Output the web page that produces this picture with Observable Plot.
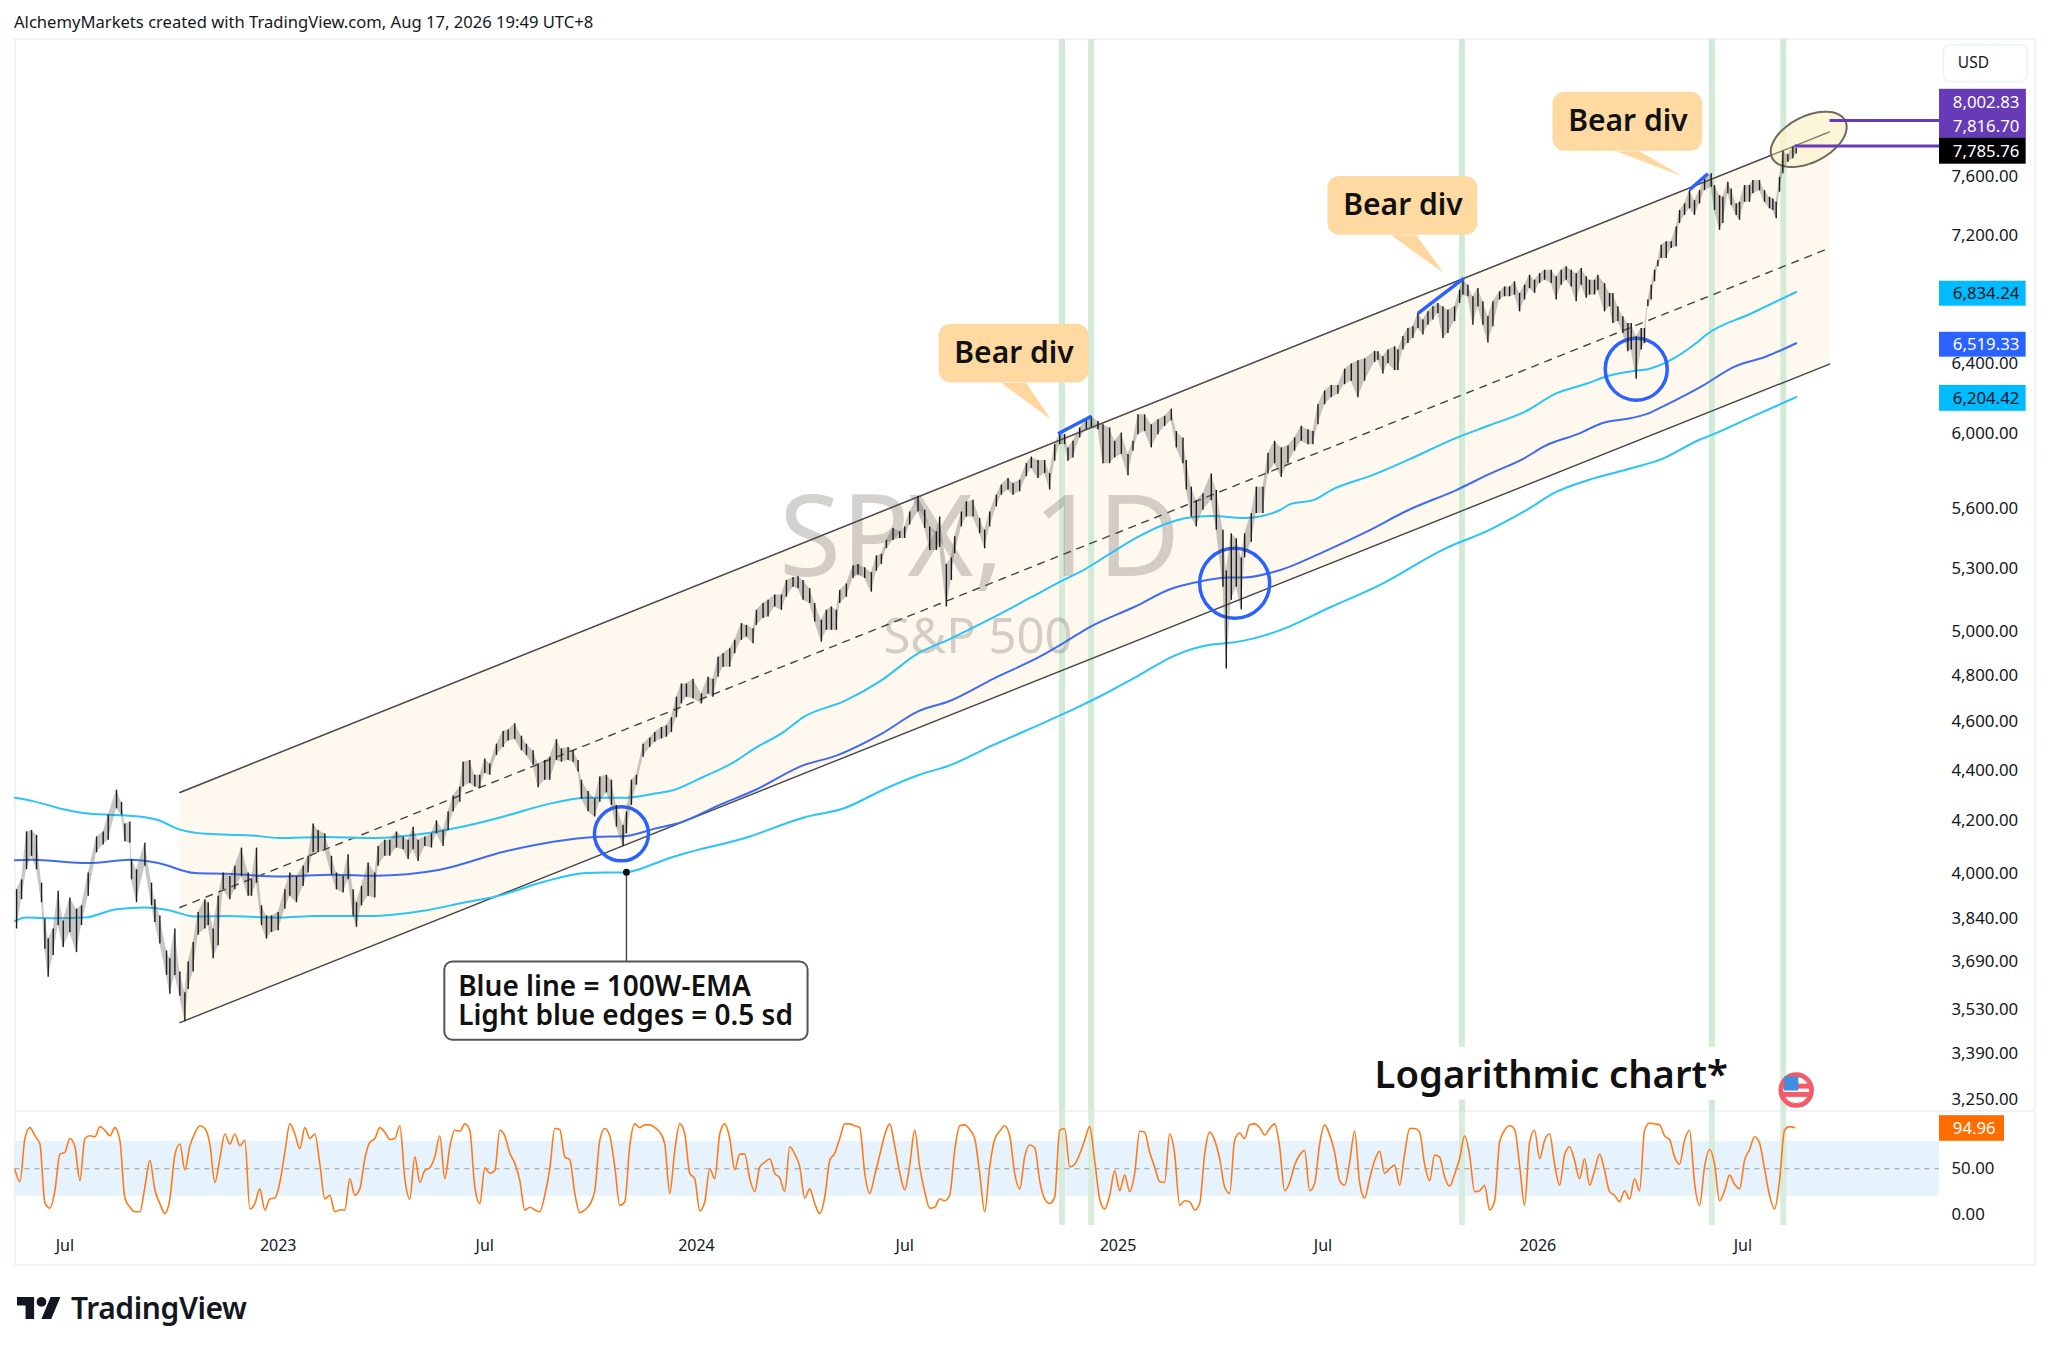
<!DOCTYPE html>
<html>
<head>
<meta charset="utf-8">
<script src="https://cdn.jsdelivr.net/npm/d3@7"></script>
<script src="https://cdn.jsdelivr.net/npm/@observablehq/plot@0.6"></script>
<style>
html,body{margin:0;padding:0;background:#fff;font-family:"Noto Sans",sans-serif;color:#131722}
#page{position:relative;width:2048px;height:1351px;overflow:hidden}
#head{position:absolute;left:14px;top:10px;font-size:16.6px;line-height:24px;white-space:nowrap}
#panel{position:absolute;left:14px;top:38px;width:2018px;height:1224px;border:2px solid #f0f3fa;box-sizing:content-box}
#divider{position:absolute;left:14px;top:1110px;width:2020px;height:2px;background:#f0f3fa}
#price{position:absolute;left:0;top:39px}
#osc{position:absolute;left:0;top:1111px}
#foot{position:absolute;left:17px;top:1293px;display:flex;align-items:center;gap:10px}
#foot span{font-size:30px;font-weight:600;letter-spacing:-.4px;line-height:30px}
svg{overflow:visible}
</style>
</head>
<body>
<div id="page">
<div id="panel"></div><div id="divider"></div>
<div id="head">AlchemyMarkets created with TradingView.com, Aug 17, 2026 19:49 UTC+8</div>
<div id="price"></div>
<div id="osc"></div>
<div id="foot"><svg width="44" height="30" viewBox="0 2 36 22"><path d="M14 22H7V11H0V4h14v18zM28 22h-8l7.5-18h8L28 22z" fill="#131722"/><circle cx="20" cy="8" r="4" fill="#131722"/></svg><span>TradingView</span></div>
</div>
<script>
// ---- time axis (bar numbers, as on an indexed trading axis)
const timeBars=[30,158,282,409,534,662,785,914,1037];
const timeLabels=["Jul","2023","Jul","2024","Jul","2025","Jul","2026","Jul"];
const priceTicks=[7600,7200,6400,6000,5600,5300,5000,4800,4600,4400,4200,4000,3840,3690,3530,3390,3250];

// ---- price bars
const barX=[
1,4,7,10,13,16,18,20,23,26,
29,33,37,40,44,49,53,56,61,64,
66,69,70,73,78,82,84,87,91,93,
96,99,102,104,107,110,114,116,119,122,
125,129,132,136,140,142,145,148,151,154,
158,162,165,169,173,176,179,182,186,190,
193,197,200,203,205,208,212,216,218,222,
225,229,233,236,239,242,246,250,253,257,
260,263,267,269,273,276,279,282,285,289,
293,296,300,304,307,311,314,318,321,325,
328,332,335,338,340,344,348,351,355,358,
361,365,367,370,373,377,381,384,388,391,
394,397,400,403,407,412,416,419,422,425,
429,432,436,439,443,445,449,452,456,460,
463,467,470,473,477,480,484,487,490,493,
495,499,503,506,510,514,517,520,523,527,
531,534,537,542,546,549,553,555,559,562,
564,568,571,575,579,582,585,589,592,596,
599,603,607,610,614,618,621,624,627,630,
632,635,639,643,646,650,653,657,660,664,
668,671,674,678,682,686,690,694,697,701,
703,706,709,713,718,721,725,727,730,733,
736,738,742,745,749,752,756,760,764,768,
772,776,779,782,786,790,794,798,802,806,
810,816,818,821,824,828,830,833,836,839,
842,845,848,851,854,857,860,864,867,869,
872,875,878,881,884,887,891,894,897,900,
903,906,909,912,915,918,922,925,928,931,
934,937,940,943,945,948,950,954,957,959,
962,965,968,970,973,976,978,980,982,984,
986,988,991,994,997,999,1002,1005,1008,1011,
1014,1018,1020,1023,1025,1028,1030,1033,1035,1038,
1041,1043,1047,1050,1053,1055,1057,1059,1061,1064,
1067,1069];
const barHigh=[
3942,3978,4157,4163,4144,3966,3836,3767,3802,3936,
3830,3912,3872,3884,4003,4138,4157,4222,4320,4272,
4188,4195,4053,4015,4114,3966,3906,3848,3726,3699,
3802,3654,3585,3688,3755,3860,3906,3895,3802,3918,
4003,3990,4028,4096,4003,3978,4096,3884,3848,3848,
3860,3942,4003,3990,4028,4065,4188,4163,4150,4065,
4003,3990,4071,3942,3895,3954,4040,4003,4102,4126,
4126,4157,4138,4126,4175,4126,4138,4150,4200,4163,
4234,4297,4333,4433,4440,4380,4380,4446,4426,4507,
4560,4566,4593,4540,4507,4480,4426,4440,4453,4526,
4487,4493,4480,4440,4360,4315,4285,4373,4380,4360,
4260,4182,4235,4360,4380,4507,4533,4556,4577,4584,
4618,4706,4764,4764,4785,4720,4793,4785,4883,4898,
4921,4959,5036,5028,5012,5098,5130,5145,5170,5170,
5240,5255,5258,5240,5200,5130,5052,5098,5114,5098,
5192,5223,5310,5318,5302,5278,5360,5368,5437,5497,
5480,5505,5581,5660,5590,5505,5480,5555,5318,5350,
5455,5581,5633,5642,5548,5488,5581,5668,5721,5756,
5730,5747,5835,5870,5852,5852,5782,5938,6002,5993,
5920,5956,6030,6076,6095,6066,6048,6030,5956,6002,
5885,5956,6103,6103,6048,6076,6095,6135,6010,5975,
5852,5710,5640,5675,5780,5693,5488,5286,5470,5445,
5350,5470,5573,5710,5710,5890,5956,5920,5930,5975,
6040,6020,6010,6160,6238,6270,6270,6365,6395,6415,
6425,6470,6468,6438,6478,6498,6478,6558,6608,6618,
6700,6660,6710,6742,6762,6742,6720,6742,6845,6918,
6877,6804,6856,6773,6680,6773,6835,6866,6866,6898,
6825,6877,6940,6908,6950,6972,6972,6930,6972,6994,
6972,6950,6983,6930,6908,6908,6940,6887,6825,6825,
6742,6680,6638,6638,6558,6608,6608,6784,6877,6972,
7035,7135,7157,7157,7255,7366,7411,7502,7433,7502,
7584,7620,7537,7468,7456,7560,7514,7411,7422,7537,
7537,7572,7572,7502,7456,7445,7422,7595,7780,7755,
7810,7800];
const barLow=[
3802,3906,4015,4065,4015,3895,3732,3637,3710,3814,
3738,3790,3720,3814,3918,4078,4108,4126,4247,4222,
4120,4114,3978,3895,4028,3884,3825,3750,3643,3580,
3643,3574,3491,3596,3654,3780,3802,3814,3699,3744,
3942,3906,3942,3990,3918,3918,3966,3814,3767,3790,
3796,3872,3918,3895,3954,4003,4078,4078,4090,3996,
3942,3930,3978,3848,3808,3884,3918,3912,4028,4065,
4065,4096,4090,4053,4090,4046,4102,4096,4150,4102,
4163,4234,4272,4333,4347,4333,4327,4387,4380,4460,
4493,4520,4526,4480,4460,4420,4330,4360,4360,4440,
4433,4440,4433,4393,4285,4235,4215,4272,4310,4260,
4176,4102,4150,4260,4340,4453,4493,4515,4529,4536,
4556,4618,4677,4706,4699,4677,4720,4706,4793,4838,
4838,4898,4959,4974,4944,5028,5060,5067,5114,5098,
5160,5208,5200,5145,5130,5044,4951,5005,5005,5005,
5130,5160,5250,5268,5250,5184,5285,5318,5395,5437,
5446,5446,5514,5581,5497,5387,5387,5403,5114,5240,
5370,5505,5555,5555,5471,5395,5505,5607,5668,5695,
5668,5686,5765,5809,5756,5782,5695,5848,5938,5938,
5848,5866,5975,6020,6030,6020,5835,5835,5866,5885,
5770,5902,5993,6010,5920,5993,6038,6070,5920,5835,
5695,5556,5505,5590,5640,5488,5208,4830,5145,5208,
5100,5350,5428,5573,5573,5780,5835,5762,5835,5902,
5956,5938,5938,6048,6160,6200,6220,6275,6295,6200,
6295,6405,6418,6337,6398,6357,6357,6478,6517,6548,
6608,6568,6628,6660,6700,6548,6578,6650,6762,6815,
6804,6628,6742,6628,6520,6618,6784,6804,6804,6815,
6710,6784,6856,6825,6887,6908,6887,6784,6877,6908,
6866,6773,6877,6794,6815,6815,6845,6710,6742,6638,
6650,6578,6468,6478,6306,6478,6517,6742,6784,6898,
6994,7048,7048,7113,7124,7278,7333,7378,7333,7411,
7502,7526,7366,7233,7278,7480,7400,7333,7300,7422,
7422,7480,7502,7422,7378,7366,7310,7491,7620,7700,
7725,7760];

// ---- 100W-EMA
const emaX=[0,10,44,69,86,108,127,159,191,216,255,294,323,348,367,384,400,424,444,473,493,520,542,561,588,615,630,645,672,694,708,728,738,759,788,811,836,865,885,906,918,939,952,970,980,991,1013,1032,1051,1069];
const emaY=[4050,4052,4040,4052,4040,4003,4000,3990,3997,3993,4015,4083,4120,4138,4142,4170,4195,4265,4320,4420,4460,4550,4645,4690,4790,4885,4950,5020,5115,5200,5230,5255,5255,5290,5390,5480,5590,5695,5780,5865,5930,6000,6055,6085,6110,6160,6270,6380,6440,6519];
// ---- upper edge (+0.5 sd)
const upX=[0,12,29,44,73,86,98,115,142,159,186,216,245,269,294,323,343,367,384,395,412,432,444,461,473,498,520,542,561,586,610,630,639,657,674,694,703,718,738,759,765,780,790,815,836,865,885,906,925,943,956,972,980,993,1009,1015,1042,1069];
const upY=[4290,4275,4245,4228,4218,4203,4168,4150,4144,4134,4138,4134,4150,4178,4218,4270,4290,4290,4307,4320,4370,4435,4490,4556,4620,4690,4780,4900,4965,5060,5160,5245,5280,5370,5455,5530,5550,5560,5550,5590,5620,5645,5695,5775,5855,5975,6045,6120,6225,6280,6325,6355,6365,6415,6520,6570,6700,6834];
// ---- lower edge (-0.5 sd)
const loX=[0,7,24,42,61,78,91,108,127,157,181,216,245,269,289,318,343,367,384,390,441,473,498,522,542,561,586,620,637,650,674,696,718,728,743,759,790,819,858,885,906,925,947,970,989,1011,1018,1042,1069];
const loY=[3830,3842,3840,3842,3872,3878,3870,3846,3848,3842,3848,3848,3866,3895,3918,3972,4003,4006,4038,4052,4140,4212,4250,4325,4380,4420,4500,4605,4660,4706,4800,4890,4940,4947,4967,5005,5115,5218,5395,5490,5585,5685,5755,5810,5862,5965,5990,6090,6204];

// ---- channel
const channelX=[99,1089];
const channelTop=[4311,7919];
const channelMid=[3878,7116];
const channelBot=[3488,6395];

// ---- vertical highlights
const bandBars=[628.4,645.9,868.4,1018.4,1061.3];

// ---- right-hand price tags
const tagText=["8,002.83","7,816.70","7,785.76","6,834.24","6,519.33","6,204.42"];
const tagLabelY=[8138,7960,7779,6826,6512,6197];
const tagTop=[8235,8235,7873,6902,6585,6271];
const tagBot=[7873,7873,7687,6745,6436,6123];
const tagFill=["#673ab7","#673ab7","#000000","#00bcff","#2962ff","#00bcff"];
const tagInk=["#fff","#fff","#fff","#131722","#fff","#131722"];

// ---- stochastic oscillator, one value every three bars
const osc=[
49,36,83,95,86,77,13,7,26,66,68,83,74,37,83,86,85,96,92,86,95,81,18,8,3,3,30,59,27,12,1,17,65,77,49,75,89,97,94,77,35,61,88,77,88,75,81,6,12,28,5,17,18,35,68,99,88,72,95,83,88,55,17,21,3,5,5,39,21,28,61,79,83,95,90,82,83,97,39,17,63,35,48,51,63,86,39,74,92,91,
99,92,30,12,51,45,48,92,86,67,56,37,5,8,5,3,21,50,94,93,63,60,23,2,5,11,26,81,94,86,52,10,14,75,99,95,98,98,95,90,77,23,70,99,88,45,39,4,14,50,39,88,99,83,49,66,66,39,25,52,57,61,45,40,25,74,66,52,18,28,12,1,19,59,67,83,99,99,97,95,45,23,43,65,87,99,75,46,27,
54,92,52,25,7,8,17,15,21,70,97,98,93,83,45,3,52,82,91,97,86,45,28,63,76,73,37,17,12,19,92,94,52,55,66,81,96,59,17,6,21,48,26,43,25,45,91,90,68,52,36,35,88,66,10,15,14,5,12,66,90,81,61,30,23,81,89,83,98,99,95,87,94,99,74,26,35,54,65,70,26,34,77,98,87,68,37,32,57,91,
35,18,39,59,69,45,50,54,32,66,94,94,90,55,37,65,63,41,31,44,61,86,65,25,26,32,5,15,79,92,97,93,54,10,79,92,61,81,88,55,32,65,74,59,39,61,32,48,66,48,25,21,14,26,17,39,26,92,100,99,98,86,82,63,55,81,92,34,10,52,71,55,15,26,43,33,28,59,71,85,78,50,21,6,37,92,96,94.96];

const F="Noto Sans";
const pane=[3214,8622];
const green="#d3ead6";

const price=Plot.plot({
  width:2048,height:1072,marginLeft:14.4,marginRight:109,marginTop:0,marginBottom:0,
  style:{background:"transparent",overflow:"visible"},
  x:{type:"linear",domain:[0,1155],axis:null},
  y:{type:"log",domain:pane,axis:null},
  r:{type:"identity"},
  marks:[
    // channel fill
    Plot.areaY(channelX,{x:d=>d,y1:(d,i)=>channelBot[i],y2:(d,i)=>channelTop[i],fill:"#fff8ee"}),
    // highlight bands, two of them interrupted behind the caption
    Plot.ruleX(bandBars,{x:d=>d,y1:(d,i)=>i>=2&&i<4?3410:pane[0],y2:pane[1],stroke:green,strokeWidth:6}),
    Plot.ruleX(bandBars.slice(2,4),{x:d=>d,y1:pane[0],y2:3248,stroke:green,strokeWidth:6}),
    // watermark
    Plot.text(["SPX, 1D"],{x:579,y:5440,text:d=>d,fontFamily:F,fontSize:113,fill:"#6f6a66",fillOpacity:.3}),
    Plot.text(["S&P 500"],{x:578,y:4975,text:d=>d,fontFamily:F,fontSize:49,fill:"#6f6a66",fillOpacity:.3}),
    // channel lines
    Plot.line(channelX,{x:d=>d,y:(d,i)=>channelTop[i],stroke:"#444",strokeWidth:1.4}),
    Plot.line(channelX,{x:d=>d,y:(d,i)=>channelBot[i],stroke:"#444",strokeWidth:1.4}),
    Plot.line(channelX,{x:d=>d,y:(d,i)=>channelMid[i],stroke:"#444",strokeWidth:1.4,strokeDasharray:"7,7"}),
    // moving averages
    Plot.line(upX,{x:d=>d,y:(d,i)=>upY[i],stroke:"#29c4f8",strokeWidth:2,curve:"monotone-x"}),
    Plot.line(loX,{x:d=>d,y:(d,i)=>loY[i],stroke:"#29c4f8",strokeWidth:2,curve:"monotone-x"}),
    Plot.line(emaX,{x:d=>d,y:(d,i)=>emaY[i],stroke:"#3f6bf2",strokeWidth:2,curve:"monotone-x"}),
    // circles
    Plot.dot([[364,4150,27],[732,5227,35],[973,6365,31]],{x:d=>d[0],y:d=>d[1],r:d=>d[2],stroke:"#2962ff",strokeWidth:3.5,fill:"none"}),
    // ellipse
    Plot.dot([[1076.5,7865]],{x:d=>d[0],y:d=>d[1],r:41,fill:"#fdf3cf",fillOpacity:.8,stroke:"#6b6b5f",strokeWidth:2,
      symbol:{draw(ctx,size){const s=Math.sqrt(size/Math.PI),a=-27*Math.PI/180;
        for(let k=0;k<=72;k++){const t=k/72*2*Math.PI,u=s*Math.cos(t),v=.56*s*Math.sin(t),X=u*Math.cos(a)-v*Math.sin(a),Y=u*Math.sin(a)+v*Math.cos(a);
          k?ctx.lineTo(X,Y):ctx.moveTo(X,Y);} ctx.closePath();}}}),
    Plot.line(channelX,{x:d=>d,y:(d,i)=>channelTop[i],stroke:"#555",strokeWidth:1.2,strokeOpacity:.7}),
    // price bars
    Plot.areaY(barX,{x:d=>d,y1:(d,i)=>barLow[i],y2:(d,i)=>barHigh[i],fill:"#555",fillOpacity:.33}),
    Plot.ruleX(barX,{x:d=>d,y1:(d,i)=>barLow[i],y2:(d,i)=>barHigh[i],stroke:"#1a1a1a",strokeWidth:1.4}),
    // divergence segments
    Plot.link([[626,5998,646,6095],[842,6700,869.5,6920],[1005,7508,1016,7620]],{x1:d=>d[0],y1:d=>d[1],x2:d=>d[2],y2:d=>d[3],stroke:"#2962ff",strokeWidth:3.5}),
    // levels to the tags
    Plot.link([[1089,8002.83],[1068,7816.70]],{x1:d=>d[0],x2:1155,y1:d=>d[1],y2:d=>d[1],stroke:"#673ab7",strokeWidth:3}),
    // bear div callouts
    ...[[592,607,621.5,6284,6079],[826,841,857.6,7200,6953],[961,975,1001,7779,7600]].map(t=>
      Plot.line([[t[0],t[3]],[t[1],t[3]],[t[2],t[4]]],{x:d=>d[0],y:d=>d[1],fill:"#ffd79e",stroke:"none"})),
    Plot.rect([[554.6,644.6,6284,6634],[788,878,7200,7600],[923,1013,7779,8213]],{x1:d=>d[0],x2:d=>d[1],y1:d=>d[2],y2:d=>d[3],fill:"#ffd79e",fillOpacity:.96,rx:12}),
    Plot.text([[599.6,6456],[833,7402],[968,7997]],{x:d=>d[0],y:d=>d[1],text:()=>"Bear div",fontFamily:F,fontSize:30,fontWeight:600,fill:"#111"}),
    // note box
    Plot.link([[367,4006,3688]],{x1:d=>d[0],x2:d=>d[0],y1:d=>d[1],y2:d=>d[2],stroke:"#444",strokeWidth:1.4}),
    Plot.dot([[367,4006]],{x:d=>d[0],y:d=>d[1],r:3.5,fill:"#111"}),
    Plot.rect([[258,476,3432,3688]],{x1:d=>d[0],x2:d=>d[1],y1:d=>d[2],y2:d=>d[3],fill:"#fff",stroke:"#555",strokeWidth:2,rx:8}),
    Plot.text(["Blue line = 100W-EMA\nLight blue edges = 0.5 sd"],{x:266,y:3558,text:d=>d,textAnchor:"start",fontFamily:F,fontSize:28,fontWeight:600,lineHeight:1.03,fill:"#111"}),
    // caption
    Plot.text(["Logarithmic chart*"],{x:922,y:3320,text:d=>d,fontFamily:F,fontSize:38.2,fontWeight:600,fill:"#111"}),
    // flag
    Plot.dot([[1069,3278]],{x:d=>d[0],y:d=>d[1],r:17,fill:"#f45b69",stroke:"#f45b69"}),
    Plot.dot([[1069,3278]],{x:d=>d[0],y:d=>d[1],r:13.5,fill:"#fff",stroke:"#f45b69",strokeWidth:1}),
    Plot.link([[1060,1078,3265],[1060,1078,3290]],{x1:d=>d[0],x2:d=>d[1],y1:d=>d[2],y2:d=>d[2],stroke:"#f45b69",strokeWidth:5}),
    Plot.dot([[1066,3298]],{x:d=>d[0],y:d=>d[1],r:8,symbol:"square",fill:"#3f8fe0"}),
    // price axis
    Plot.axisY(priceTicks,{anchor:"right",tickSize:0,tickPadding:12,tickFormat:d3.format(",.2f"),fontSize:16.8,fontFamily:F,fill:"#131722",label:null}),
    // USD box
    Plot.rect([[1157.6,1208,8289,8576]],{x1:d=>d[0],x2:d=>d[1],y1:d=>d[2],y2:d=>d[3],fill:"#fff",stroke:"#f0f3fa",strokeWidth:2,rx:7}),
    Plot.text(["USD"],{x:1166,y:8435,text:d=>d,textAnchor:"start",fontFamily:F,fontSize:15.5,fill:"#131722"}),
    // tags
    Plot.rect(tagText,{x1:1155,x2:1207,y1:(d,i)=>tagBot[i],y2:(d,i)=>tagTop[i],fill:(d,i)=>tagFill[i]}),
    Plot.text(tagText,{x:1163,y:(d,i)=>tagLabelY[i],text:d=>d,textAnchor:"start",fontFamily:F,fontSize:16.8,fill:(d,i)=>tagInk[i]})
  ]
});
document.getElementById("price").append(price);

const oscPlot=Plot.plot({
  width:2048,height:152,marginLeft:14.4,marginRight:109,marginTop:11.5,marginBottom:49,
  style:{background:"transparent",overflow:"visible"},
  x:{type:"linear",domain:[0,1155],axis:null},
  y:{type:"linear",domain:[0,100],axis:null},
  marks:[
    Plot.rect([[0,1155,20,80]],{x1:d=>d[0],x2:d=>d[1],y1:d=>d[2],y2:d=>d[3],fill:"#e3f2fd",fillOpacity:.9}),
    Plot.ruleX(bandBars,{x:d=>d,y1:-12,y2:112.6,stroke:green,strokeWidth:6,strokeOpacity:.85}),
    Plot.ruleY([50],{x1:0,x2:1155,stroke:"#9a9a9a",strokeWidth:1,strokeDasharray:"5,5"}),
    Plot.line(osc,{x:(d,i)=>i*3,y:d=>d,stroke:"#ff7a1a",strokeWidth:1.6,curve:"monotone-x"}),
    Plot.rect([[1155,1194,80,108]],{x1:d=>d[0],x2:d=>d[1],y1:d=>d[2],y2:d=>d[3],fill:"#ff6d00"}),
    Plot.text(["94.96"],{x:1163,y:94,text:d=>d,textAnchor:"start",fontFamily:F,fontSize:16.8,fill:"#fff"}),
    Plot.axisY([0,50],{anchor:"right",tickSize:0,tickPadding:12,tickFormat:d3.format(".2f"),fontSize:16.8,fontFamily:F,fill:"#131722",label:null}),
    Plot.axisX(timeBars,{anchor:"bottom",tickSize:0,tickPadding:25,tickFormat:(d)=>timeLabels[timeBars.indexOf(d)],fontSize:16,fontFamily:F,fill:"#131722",label:null})
  ]
});
document.getElementById("osc").append(oscPlot);
</script>
</body>
</html>
